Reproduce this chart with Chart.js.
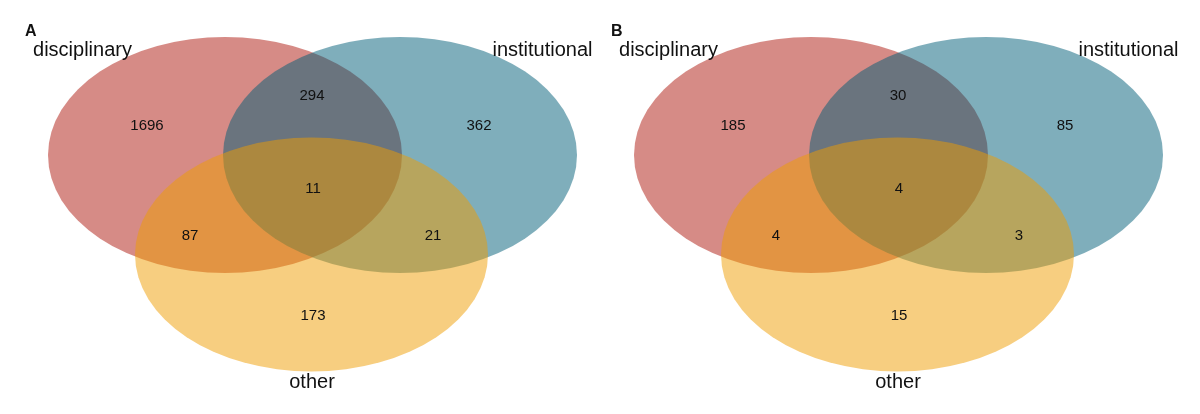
<!DOCTYPE html>
<html>
<head>
<meta charset="utf-8">
<script src="https://cdn.jsdelivr.net/npm/chart.js@4.4.1/dist/chart.umd.min.js"></script>
<style>
  body { margin: 0; background: #fff; }
  #wrap { position: relative; width: 1200px; height: 414px; overflow: hidden; }
  .panel { position: absolute; top: 0; width: 600px; height: 414px; }
</style>
</head>
<body>
<div id="wrap">
  <div class="panel" style="left:0"><canvas id="venn-a"></canvas></div>
  <div class="panel" style="left:586px"><canvas id="venn-b"></canvas></div>
</div>
<script>
// Data
const setNames = ['disciplinary', 'institutional', 'other']
// regions: D only, D&I, I only, D&I&O, D&O, I&O, O only
const countsA = [1696, 294, 362, 11, 87, 21, 173]
const countsB = [185, 30, 85, 4, 4, 3, 15]
const panelLetters = ['A', 'B']

// Layout (panel units, 600 x 414)
const ellipses = [
  { cx: 225, cy: 155, rx: 177, ry: 118, color: 'rgba(173, 23, 13, 0.5)' },
  { cx: 400, cy: 155, rx: 177, ry: 118, color: 'rgba(0, 93, 119, 0.5)' },
  { cx: 311.5, cy: 254.5, rx: 176.5, ry: 117, color: 'rgba(239, 157, 1, 0.5)' }
]
const regionPos = [[147, 126], [312, 96], [479, 126], [313, 189], [190, 236], [433, 236], [313, 316]]
const namePos = [[82.5, 50], [542.5, 50], [312, 382]]
const letterPos = [25, 31.5]
const fontFamily = '"Liberation Sans", Arial, Helvetica, sans-serif'

// draws the set ellipses under the points and the texts over them
const vennPlugin = {
  id: 'venn',
  beforeDatasetsDraw(chart) {
    const { ctx, scales: { x, y } } = chart
    ctx.save()
    ellipses.forEach(e => {
      const cx = x.getPixelForValue(e.cx)
      const cy = y.getPixelForValue(e.cy)
      const rx = Math.abs(x.getPixelForValue(e.cx + e.rx) - cx)
      const ry = Math.abs(y.getPixelForValue(e.cy + e.ry) - cy)
      ctx.beginPath()
      ctx.ellipse(cx, cy, rx, ry, 0, 0, Math.PI * 2)
      ctx.fillStyle = e.color
      ctx.fill()
    })
    ctx.restore()
  },
  afterDatasetsDraw(chart) {
    const { ctx } = chart
    ctx.save()
    ctx.fillStyle = '#111'
    ctx.textBaseline = 'middle'
    chart.data.datasets.forEach((ds, i) => {
      const meta = chart.getDatasetMeta(i)
      ctx.font = ds.font
      ctx.textAlign = ds.align
      meta.data.forEach((pt, j) => {
        ctx.fillText(String(ds.texts[j]), pt.x, pt.y)
      })
    })
    ctx.restore()
  }
}

function makeVenn(canvasId, counts, letter) {
  const textSet = (texts, pos, font, align) => ({
    texts: texts,
    font: font,
    align: align,
    data: pos.map(p => ({ x: p[0], y: p[1] })),
    pointRadius: 0,
    pointHoverRadius: 0
  })
  return new Chart(document.getElementById(canvasId), {
    type: 'scatter',
    data: {
      datasets: [
        textSet(counts, regionPos, '15px ' + fontFamily, 'center'),
        textSet(setNames, namePos, '20px ' + fontFamily, 'center'),
        textSet([letter], [letterPos], 'bold 16px ' + fontFamily, 'left')
      ]
    },
    options: {
      responsive: true,
      maintainAspectRatio: false,
      animation: false,
      layout: { padding: 0, autoPadding: false },
      scales: {
        x: { type: 'linear', min: 0, max: 600, display: false },
        y: { type: 'linear', min: 0, max: 414, reverse: true, display: false }
      },
      plugins: {
        legend: { display: false },
        tooltip: { enabled: false }
      },
      events: []
    },
    plugins: [vennPlugin]
  })
}

makeVenn('venn-a', countsA, panelLetters[0])
makeVenn('venn-b', countsB, panelLetters[1])
</script>
</body>
</html>
